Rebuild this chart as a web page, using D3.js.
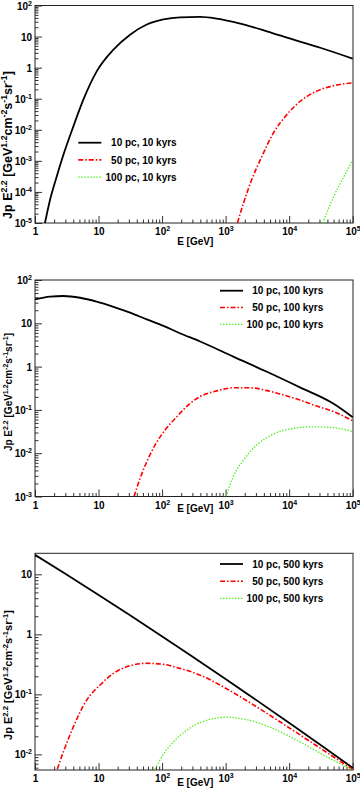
<!DOCTYPE html>
<html>
<head>
<meta charset="utf-8">
<script src="https://cdn.jsdelivr.net/npm/d3@7"></script>
<style>
  body { margin: 0; background: #fff; }
  text { font-family: "Liberation Sans", Arial, sans-serif; font-weight: bold; fill: #000; }
</style>
</head>
<body>
<div id="chart"></div>
<script>
// ---- data (E in GeV, Jp E^2.2) ----
const xTicks = [1, 10, 1e2, 1e3, 1e4, 1e5];

// 10 kyrs
const p1BlackE = [1.435, 1.722, 2.193, 2.793, 4.018, 5.768, 9.354, 17.14, 31.33, 57.41, 104.7, 190.5, 398, 724, 1698, 4467, 11750, 30900, 1e5];
const p1BlackJ = [1e-5, 5.5e-5, 3.1e-4, 1.55e-3, 0.0129, 0.0933, 0.759, 3.80, 11.5, 24.5, 35.5, 41.7, 43.2, 38.0, 26.3, 14.8, 7.94, 4.37, 1.95];
const p1RedE = [1535, 1905, 2570, 3715, 5623, 9120, 14790, 26920, 50120, 1e5];
const p1RedJ = [1e-5, 4.27e-5, 2.45e-4, 1.38e-3, 7.76e-3, 0.0302, 0.0813, 0.174, 0.263, 0.324];
const p1GreenE = [33880, 50120, 72440, 1e5];
const p1GreenJ = [1e-5, 7.08e-5, 3.09e-4, 1.07e-3];

// 100 kyrs
const p2BlackE = [1, 1.722, 2.793, 5.117, 9.354, 17.14, 31.33, 57.41, 104.7, 190.5, 398, 1318, 4467, 14790, 50120, 1e5];
const p2BlackJ = [35.5, 41.2, 42.7, 38.9, 31.6, 24.0, 17.6, 12.3, 8.71, 5.89, 3.80, 1.70, 0.759, 0.331, 0.138, 0.0676];
const p2RedE = [36.22, 45.08, 57.41, 77.62, 112.2, 169.8, 275.4, 398, 724, 1318, 2455, 4467, 8128, 14790, 26920, 50120, 1e5];
const p2RedJ = [1e-3, 2.63e-3, 6.31e-3, 0.0155, 0.0347, 0.0692, 0.141, 0.204, 0.275, 0.324, 0.324, 0.279, 0.221, 0.170, 0.123, 0.0912, 0.0562];
const p2GreenE = [1019, 1318, 1905, 3090, 5623, 11750, 23990, 50120, 1e5];
const p2GreenJ = [1e-3, 2.88e-3, 6.92e-3, 0.0155, 0.0275, 0.0376, 0.0407, 0.0389, 0.0316];

// 500 kyrs
const p3BlackE = [1, 2.793, 9.354, 31.33, 104.7, 275.4, 933, 3090, 10470, 34670, 1e5];
const p3BlackJ = [21.1, 10.7, 4.75, 2.07, 0.893, 0.452, 0.189, 0.0794, 0.0324, 0.0133, 5.96e-3];
const p3RedE = [2.244, 2.793, 4.018, 6.516, 10.57, 17.14, 31.33, 57.41, 104.7, 190.5, 398, 933, 3090, 10470, 34670, 1e5];
const p3RedJ = [5.69e-3, 0.011, 0.0288, 0.0804, 0.143, 0.224, 0.300, 0.329, 0.316, 0.271, 0.209, 0.132, 0.0617, 0.0269, 0.0117, 5.62e-3];
const p3GreenE = [77.62, 104.7, 151.4, 245.5, 398, 1047, 2138, 5623, 14790, 34670, 1e5];
const p3GreenJ = [5.69e-3, 0.01, 0.0162, 0.0254, 0.0339, 0.0417, 0.038, 0.0269, 0.0162, 9.77e-3, 5.5e-3];

const p1Legend = ["10 pc, 10 kyrs", "50 pc, 10 kyrs", "100 pc, 10 kyrs"];
const p2Legend = ["10 pc, 100 kyrs", "50 pc, 100 kyrs", "100 pc, 100 kyrs"];
const p3Legend = ["10 pc, 500 kyrs", "50 pc, 500 kyrs", "100 pc, 500 kyrs"];

const p1YTicks = [1e-5, 1e-4, 1e-3, 1e-2, 1e-1, 1, 10, 1e2];
const p2YTicks = [1e-3, 1e-2, 1e-1, 1, 10, 1e2];
const p3YTicks = [1e-2, 1e-1, 1, 10];

// ---- layout ----
const W = 360, H = 794;
const left = 35, right = 353;

const styles = [
  { color: "#000", width: 1.8, dash: null },
  { color: "#ff0000", width: 1.6, dash: "5,2,1.5,2" },
  { color: "#55ee22", width: 1.3, dash: "1.5,1.5" }
];

const panels = [
  { top: 5.5, bottom: 223, yDomain: [1e-5, 1e2], yTicks: p1YTicks,
    curves: [[p1BlackE, p1BlackJ], [p1RedE, p1RedJ], [p1GreenE, p1GreenJ]],
    legend: p1Legend, legX: 78.3, legTextX: 176.7, legY: 142.7, legDy: 17.2,
    titleSize: 12.5, titleY: 145, xTitleY: 245 },
  { top: 280, bottom: 496.5, yDomain: [1e-3, 1e2], yTicks: p2YTicks,
    curves: [[p2BlackE, p2BlackJ], [p2RedE, p2RedJ], [p2GreenE, p2GreenJ]],
    legend: p2Legend, legX: 220, legTextX: 323.3, legY: 290.7, legDy: 16.8,
    titleSize: 10, titleY: 392, xTitleY: 512 },
  { top: 553.3, bottom: 770, yDomain: [Math.pow(10, -2.26), Math.pow(10, 1.35)], yTicks: p3YTicks,
    curves: [[p3BlackE, p3BlackJ], [p3RedE, p3RedJ], [p3GreenE, p3GreenJ]],
    legend: p3Legend, legX: 220, legTextX: 323.3, legY: 564, legDy: 17.2,
    titleSize: 11, titleY: 675, xTitleY: 786 }
];

const svg = d3.select("#chart").append("svg")
  .attr("width", W)
  .attr("height", H);

const x = d3.scaleLog().domain([1, 1e5]).range([left, 352.7]);

function minorTicks(domain) {
  const out = [];
  const lo = Math.floor(Math.log10(domain[0])), hi = Math.ceil(Math.log10(domain[1]));
  for (let d = lo; d <= hi; d++) {
    for (let k = 2; k <= 9; k++) {
      const v = k * Math.pow(10, d);
      if (v >= domain[0] * 0.999 && v <= domain[1] * 1.001) out.push(v);
    }
  }
  return out;
}

// replace plain tick text with 10^n style labels
function powerLabel(textSel) {
  textSel.each(function (v) {
    const t = d3.select(this);
    t.text(null);
    const e = Math.round(Math.log10(v));
    if (e === 0) { t.append("tspan").text("1"); return; }
    if (e === 1) { t.append("tspan").text("10"); return; }
    t.append("tspan").text("10");
    t.append("tspan").attr("dy", -4).attr("font-size", 7).text(e);
  });
}

panels.forEach((p, pi) => {
  const y = d3.scaleLog().domain(p.yDomain).range([p.bottom, p.top]);
  const g = svg.append("g");

  const clipId = "clip" + pi;
  svg.append("clipPath").attr("id", clipId)
    .append("rect")
    .attr("x", left).attr("y", p.top)
    .attr("width", right - left).attr("height", p.bottom - p.top);

  // minor ticks
  g.append("g")
    .attr("transform", `translate(0,${p.bottom})`)
    .call(d3.axisBottom(x).tickValues(minorTicks(x.domain())).tickSize(-3.5).tickFormat(""))
    .call(a => a.select(".domain").remove());
  g.append("g")
    .attr("transform", `translate(${left},0)`)
    .call(d3.axisLeft(y).tickValues(minorTicks(p.yDomain)).tickSize(-3.5).tickFormat(""))
    .call(a => a.select(".domain").remove());

  // major ticks + labels
  const xa = g.append("g")
    .attr("transform", `translate(0,${p.bottom})`)
    .call(d3.axisBottom(x).tickValues(xTicks).tickSize(-7).tickPadding(5))
    .call(a => a.select(".domain").remove());
  xa.selectAll(".tick text")
    .attr("font-size", 10).attr("font-family", null)
    .call(powerLabel);

  const ya = g.append("g")
    .attr("transform", `translate(${left},0)`)
    .call(d3.axisLeft(y).tickValues(p.yTicks).tickSize(-7).tickPadding(3))
    .call(a => a.select(".domain").remove());
  ya.selectAll(".tick text")
    .attr("font-size", 10).attr("font-family", null)
    .attr("dy", "0.35em")
    .call(powerLabel);

  g.selectAll(".tick line").attr("stroke", "#333").attr("stroke-width", 1);

  // frame
  g.append("rect")
    .attr("x", left).attr("y", p.top)
    .attr("width", right - left).attr("height", p.bottom - p.top)
    .attr("fill", "none").attr("stroke", "#222").attr("stroke-width", 1);

  // curves
  const line = d3.line()
    .x(d => x(d[0]))
    .y(d => y(d[1]))
    .curve(d3.curveMonotoneX);

  p.curves.forEach((c, ci) => {
    const pts = c[0].map((e, i) => [e, c[1][i]]);
    const s = styles[ci];
    g.append("path")
      .datum(pts)
      .attr("clip-path", `url(#${clipId})`)
      .attr("d", line)
      .attr("fill", "none")
      .attr("stroke", s.color)
      .attr("stroke-width", s.width)
      .attr("stroke-dasharray", s.dash);
  });

  // legend
  p.legend.forEach((lab, li) => {
    const s = styles[li];
    const ly = p.legY + li * p.legDy;
    g.append("line")
      .attr("x1", p.legX).attr("x2", p.legX + 23)
      .attr("y1", ly).attr("y2", ly)
      .attr("stroke", s.color)
      .attr("stroke-width", s.width)
      .attr("stroke-dasharray", s.dash);
    g.append("text")
      .attr("x", p.legTextX).attr("y", ly + 3.6)
      .attr("text-anchor", "end")
      .attr("font-size", 10)
      .text(lab);
  });

  // x title
  g.append("text")
    .attr("x", 213.3).attr("y", p.xTitleY)
    .attr("text-anchor", "end")
    .attr("font-size", 10)
    .text("E [GeV]");

  // y title
  const yt = g.append("text")
    .attr("transform", `translate(12,${p.titleY}) rotate(-90)`)
    .attr("text-anchor", "middle")
    .attr("font-size", p.titleSize);
  const ss = p.titleSize * 0.7, up = -p.titleSize * 0.4;
  const parts = [["Jp E", 0], ["2.2", 1], [" [GeV", 0], ["1.2", 1], ["cm", 0], ["-2", 1], ["s", 0], ["-1", 1], ["sr", 0], ["-1", 1], ["]", 0]];
  let prevSup = 0;
  parts.forEach(([txt, sup]) => {
    const ts = yt.append("tspan").text(txt);
    if (sup) ts.attr("font-size", ss).attr("dy", up);
    else if (prevSup) ts.attr("dy", -up);
    prevSup = sup;
  });
});
</script>
</body>
</html>
